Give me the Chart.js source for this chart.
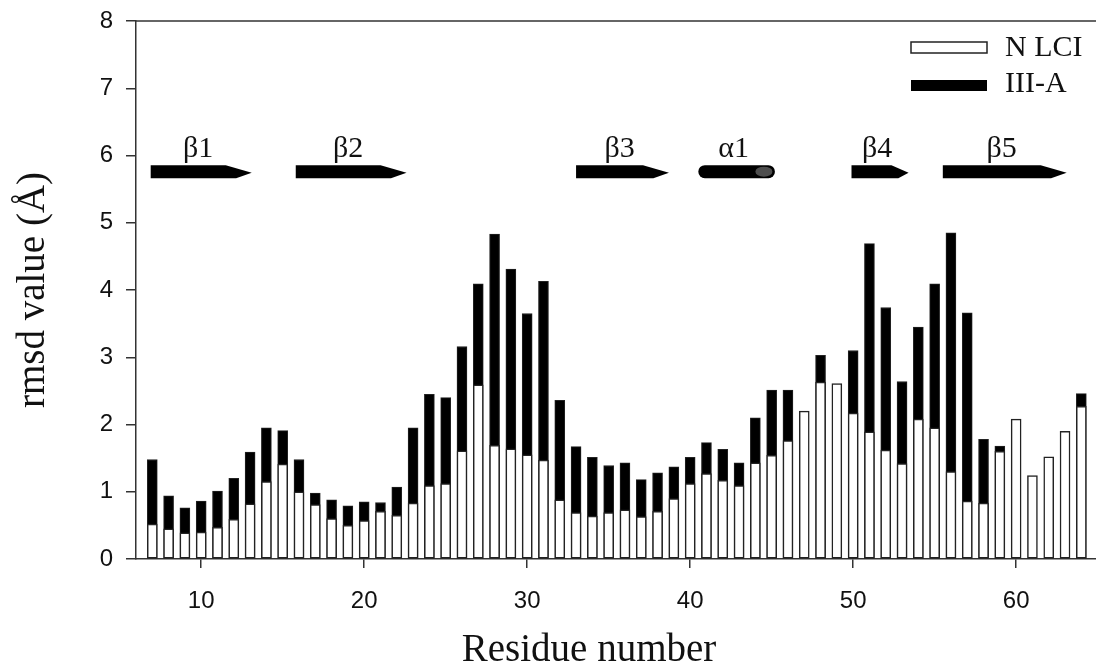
<!DOCTYPE html>
<html>
<head>
<meta charset="utf-8">
<title>rmsd per residue</title>
<script src="https://cdn.jsdelivr.net/npm/chart.js@4.4.1/dist/chart.umd.min.js"></script>
<style>
  html, body { margin: 0; padding: 0; background: #fff; overflow: hidden; }
  #wrap { width: 1096px; height: 665px; }
</style>
</head>
<body>
<div id="wrap"><canvas id="rmsdChart" width="1096" height="665"></canvas></div>
<script>
// Residue numbers, one bar pair per residue
const residues = [
     7,  8,  9, 10, 11, 12, 13, 14, 15, 16, 17, 18, 19, 20, 21, 22, 23, 24, 25, 26,
    27, 28, 29, 30, 31, 32, 33, 34, 35, 36, 37, 38, 39, 40, 41, 42, 43, 44, 45, 46,
    47, 48, 49, 50, 51, 52, 53, 54, 55, 56, 57, 58, 59, 60, 61, 62, 63, 64
];

// rmsd (Å) for N LCI (open bars)
const nlciRmsd = [
    0.52, 0.45, 0.39, 0.40, 0.47, 0.59, 0.82, 1.15, 1.41, 1.00, 0.81, 0.60, 0.50, 0.57, 0.71, 0.65, 0.83, 1.09, 1.12, 1.61,
    2.59, 1.69, 1.64, 1.55, 1.47, 0.88, 0.69, 0.64, 0.69, 0.73, 0.63, 0.71, 0.90, 1.12, 1.27, 1.17, 1.09, 1.43, 1.54, 1.76,
    2.20, 2.63, 2.61, 2.17, 1.89, 1.62, 1.42, 2.08, 1.95, 1.30, 0.86, 0.83, 1.60, 2.08, 1.24, 1.52, 1.90, 2.27
];

// rmsd (Å) for III-A (filled bars, drawn behind the open ones)
const iiiaRmsd = [
    1.48, 0.94, 0.76, 0.86, 1.01, 1.20, 1.59, 1.95, 1.91, 1.48, 0.98, 0.88, 0.79, 0.85, 0.84, 1.07, 1.95, 2.45, 2.40, 3.16,
    4.09, 4.83, 4.31, 3.65, 4.13, 2.36, 1.67, 1.51, 1.39, 1.43, 1.18, 1.28, 1.37, 1.51, 1.73, 1.63, 1.43, 2.10, 2.51, 2.51,
    null, 3.03, null, 3.10, 4.69, 3.74, 2.64, 3.45, 4.09, 4.85, 3.66, 1.78, 1.68, null, null, null, null, 2.46
];

const xTickValues = [10, 20, 30, 40, 50, 60];
const yTickValues = [0, 1, 2, 3, 4, 5, 6, 7, 8];

// Secondary structure elements shown above the bars
const ssNames = ['β1', 'β2', 'β3', 'α1', 'β4', 'β5'];
const ssKinds = ['strand', 'strand', 'strand', 'helix', 'strand', 'strand'];
const ssFrom  = [6.9, 15.8, 33.0, 40.5, 49.9, 55.5];
const ssTo    = [13.1, 22.6, 38.7, 45.2, 53.4, 63.1];
const ssLevel = 5.76;

const serif = '"Liberation Serif", "Times New Roman", serif';
const sans = '"Liberation Sans", Arial, sans-serif';
const axisColor = '#333';

const toPoints = (values) => values.map((v, i) => ({ x: residues[i], y: v }));

// Frame top, secondary structure arrows, legend and axis titles
const overlay = {
    id: 'overlay',
    afterDraw(chart) {
        const { ctx, chartArea: area } = chart;
        const x = chart.scales.x;
        const y = chart.scales.y;
        ctx.save();

        ctx.strokeStyle = axisColor;
        ctx.lineWidth = 1.5;
        ctx.beginPath();
        ctx.moveTo(area.left, area.top);
        ctx.lineTo(area.right, area.top);
        ctx.stroke();

        const midY = y.getPixelForValue(ssLevel);
        const half = 6.5;
        ctx.font = '30px ' + serif;
        ctx.textAlign = 'center';
        ctx.textBaseline = 'alphabetic';
        ssNames.forEach((name, i) => {
            const x0 = x.getPixelForValue(ssFrom[i]);
            const x1 = x.getPixelForValue(ssTo[i]);
            ctx.fillStyle = '#000';
            if (ssKinds[i] === 'helix') {
                ctx.beginPath();
                ctx.roundRect(x0, midY - half, x1 - x0, half * 2, half);
                ctx.fill();
                ctx.fillStyle = '#4d4d4d';
                ctx.beginPath();
                ctx.ellipse(x1 - 11, midY, 8.5, 5, 0, 0, Math.PI * 2);
                ctx.fill();
            } else {
                const head = Math.min(26, (x1 - x0) * 0.3);
                ctx.beginPath();
                ctx.moveTo(x0, midY - half);
                ctx.lineTo(x1 - head, midY - half);
                ctx.lineTo(x1, midY + 1);
                ctx.lineTo(x1 - head * 0.6, midY + half);
                ctx.lineTo(x0, midY + half);
                ctx.closePath();
                ctx.fill();
            }
            ctx.fillStyle = '#111';
            ctx.fillText(name, (x0 + x1) / 2 - 3, midY - 15);
        });

        // legend
        const boxX = area.right - 185;
        ctx.lineWidth = 1.5;
        ctx.fillStyle = '#fff';
        ctx.strokeStyle = '#222';
        ctx.fillRect(boxX, 42, 76, 11);
        ctx.strokeRect(boxX, 42, 76, 11);
        ctx.fillStyle = '#000';
        ctx.fillRect(boxX, 80, 76, 11);
        ctx.fillStyle = '#111';
        ctx.textAlign = 'left';
        ctx.textBaseline = 'middle';
        ctx.fillText('N LCI', boxX + 94, 48);
        ctx.fillText('III-A', boxX + 94, 84);

        // axis titles
        ctx.font = '39px ' + serif;
        ctx.textAlign = 'center';
        ctx.textBaseline = 'alphabetic';
        ctx.fillText('Residue number', area.left + 453, 661);
        ctx.translate(44, (area.top + area.bottom) / 2);
        ctx.rotate(-Math.PI / 2);
        ctx.fillText('rmsd value (Å)', 0, 0);

        ctx.restore();
    }
};

new Chart(document.getElementById('rmsdChart'), {
    type: 'bar',
    data: {
        datasets: [
            {
                label: 'N LCI',
                data: toPoints(nlciRmsd),
                backgroundColor: '#ffffff',
                borderColor: '#222222',
                borderWidth: 1.5,
                borderSkipped: false
            },
            {
                label: 'III-A',
                data: toPoints(iiiaRmsd),
                backgroundColor: '#000000',
                borderColor: '#222222',
                borderWidth: 1,
                borderSkipped: false
            }
        ]
    },
    options: {
        responsive: false,
        animation: false,
        devicePixelRatio: 1,
        layout: { padding: { top: 21, left: 0, right: 0, bottom: 0 } },
        datasets: { bar: { grouped: false, barThickness: 10 } },
        scales: {
            x: {
                type: 'linear',
                min: 6,
                max: 64.9,
                offset: false,
                afterBuildTicks: (s) => { s.ticks = xTickValues.map(v => ({ value: v })); },
                afterFit: (s) => { s.height = 106; s.paddingLeft = 0; s.paddingRight = 0; },
                grid: { offset: false, drawOnChartArea: false, drawTicks: true, tickLength: 9, color: axisColor, lineWidth: 1.5 },
                border: { color: axisColor, width: 1.5 },
                ticks: { font: { family: sans, size: 24 }, color: '#111', padding: 19, maxRotation: 0 }
            },
            y: {
                min: 0,
                max: 8,
                afterBuildTicks: (s) => { s.ticks = yTickValues.map(v => ({ value: v })); },
                afterFit: (s) => { s.width = 136; s.paddingTop = 0; s.paddingBottom = 0; },
                grid: { drawOnChartArea: false, drawTicks: true, tickLength: 10, color: axisColor, lineWidth: 1.5 },
                border: { color: axisColor, width: 1.5 },
                ticks: { font: { family: sans, size: 24 }, color: '#111', padding: 13 }
            }
        },
        plugins: {
            legend: { display: false },
            tooltip: { enabled: false }
        }
    },
    plugins: [overlay]
});
</script>
</body>
</html>
